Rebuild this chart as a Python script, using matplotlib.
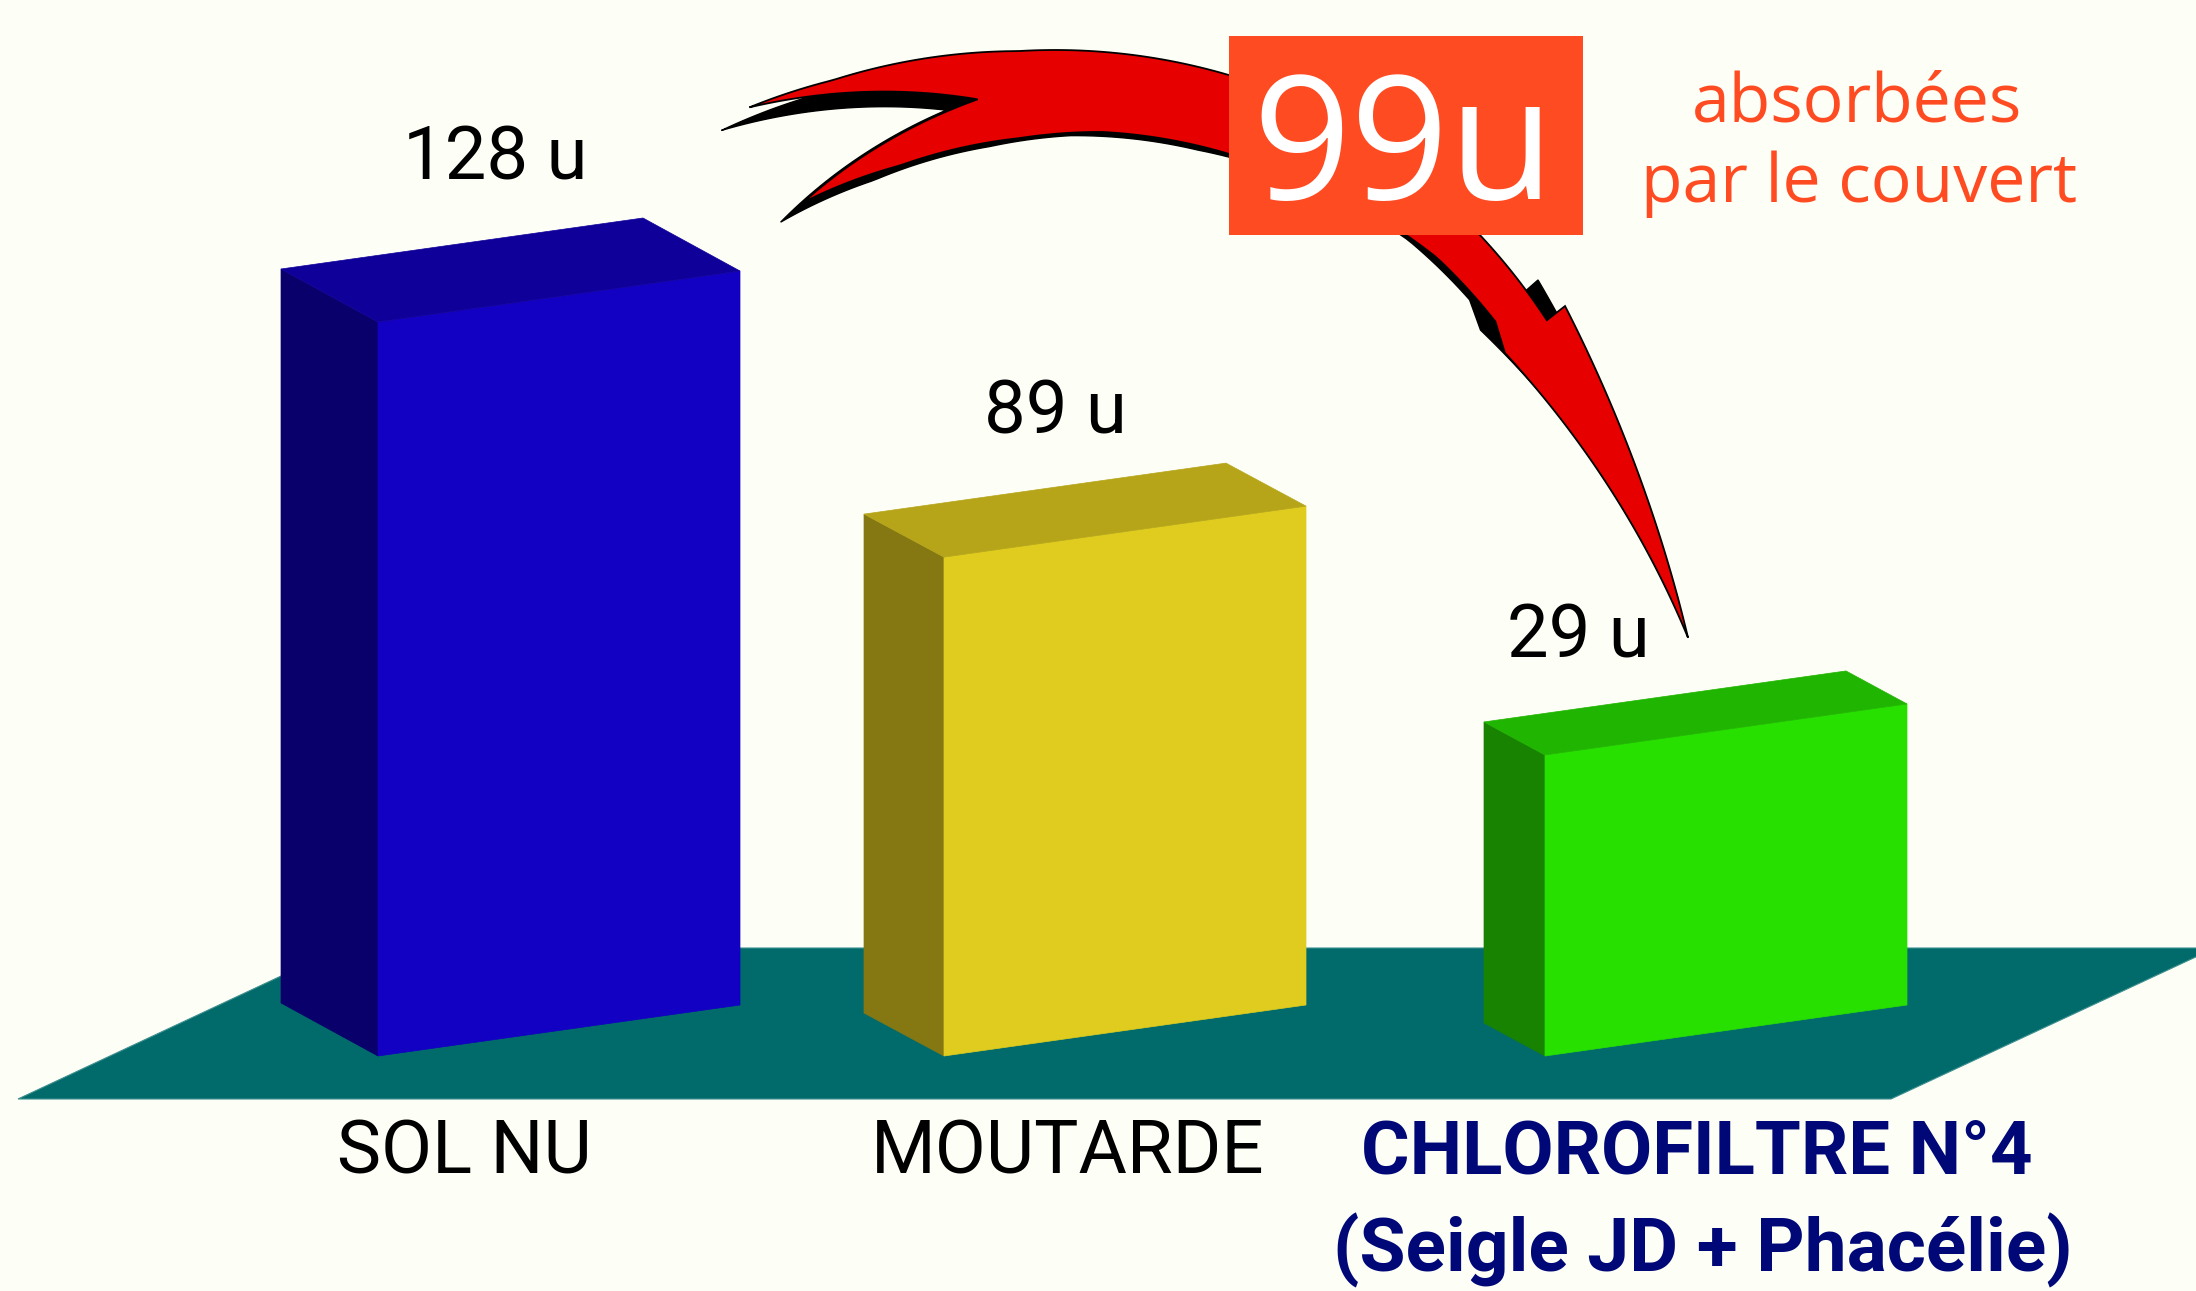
import numpy as np
import matplotlib
matplotlib.use("Agg")
import matplotlib.pyplot as plt
from matplotlib.patches import Polygon, Rectangle

# ---------------- data ----------------
categories = ["SOL NU", "MOUTARDE", "CHLOROFILTRE N°4"]
category_sub = ["", "", "(Seigle JD + Phacélie)"]
values_u = [128, 89, 29]                 # printed values (units)
# the illustration is not drawn to scale: bar heights as drawn, read on the blue bar's scale
drawn_heights = [128, 87, 52.5]
absorbed_u = 99
absorbed_lines = ["absorbées", "par le couvert"]

# ---------------- style / layout ----------------
W, H = 2196, 1291
BG = "#FDFEF6"
FLOOR = "#016B6B"
front_cols = ["#1200C3", "#DFCC1E", "#27E000"]
side_cols = ["#0A006B", "#857813", "#188300"]
top_cols = ["#10009A", "#B6A519", "#20B500"]
RED = "#E60000"
ORANGE = "#FF4B22"
NAVY = "#000878"

BASE_PY = 1056            # pixel row of the value 0 (front-left bottom corner)
PXU = 734 / 128           # pixels per unit
bar_x = [378, 944, 1545]  # front-left x of each bar (px)
bar_w = 362
slant_px = 51             # front face rises to the right
depth_px = [(-97, 53), (-80, 43), (-61, 33)]   # perspective depth vectors (dx, dy-up)
label_pos = [(495, 180), (1055, 433), (1578, 657)]
cat_pos = [(464, 1174), (1068, 1174), (1697, 1174)]
sub_pos = (1703, 1271)

fig = plt.figure(figsize=(W / 100, H / 100), dpi=100, facecolor=BG)

def px_axes(z):
    a = fig.add_axes([0, 0, 1, 1], zorder=z)
    a.set_xlim(0, W)
    a.set_ylim(H, 0)
    a.axis("off")
    a.patch.set_alpha(0)
    return a

ax_floor = px_axes(0)
ax_val = fig.add_axes([0, 0, 1, 1], zorder=1)
ax_val.set_xlim(0, W)
ax_val.set_ylim((BASE_PY - H) / PXU, BASE_PY / PXU)
ax_val.axis("off")
ax_val.patch.set_alpha(0)
ax_top = px_axes(2)

# floor
floor = [(18, 1099), (1891, 1099), (2215, 948), (341, 948)]
ax_floor.add_patch(Polygon(floor, closed=True, facecolor=FLOOR, edgecolor="#3E8F8F", lw=0.8))

# bars (value axis)
S = slant_px / PXU
for i, h in enumerate(drawn_heights):
    x0 = bar_x[i]
    dx, dyp = depth_px[i]
    dy = dyp / PXU
    side = [(x0 + dx, dy), (x0, 0), (x0, h), (x0 + dx, h + dy)]
    front = [(x0, 0), (x0 + bar_w, S), (x0 + bar_w, S + h), (x0, h)]
    top = [(x0, h), (x0 + bar_w, h + S), (x0 + bar_w + dx, h + S + dy), (x0 + dx, h + dy)]
    ax_val.add_patch(Polygon(side, closed=True, facecolor=side_cols[i], edgecolor=side_cols[i], lw=0.5))
    ax_val.add_patch(Polygon(front, closed=True, facecolor=front_cols[i], edgecolor=front_cols[i], lw=0.5))
    ax_val.add_patch(Polygon(top, closed=True, facecolor=top_cols[i], edgecolor=top_cols[i], lw=0.5))

# value labels
for (lx, ly), v in zip(label_pos, values_u):
    ax_top.text(lx, ly, f"{v} u", ha="center", va="baseline", fontsize=53.5,
                family="Roboto", color="black")

# category labels
ax_top.text(*cat_pos[0], categories[0], ha="center", va="baseline", fontsize=53.5,
            family="Roboto", color="black")
ax_top.text(*cat_pos[1], categories[1], ha="center", va="baseline", fontsize=53.5,
            family="Roboto", color="black")
ax_top.text(*cat_pos[2], categories[2], ha="center", va="baseline", fontsize=53.5,
            family="Roboto", weight="bold", color=NAVY)
ax_top.text(*sub_pos, category_sub[2], ha="center", va="baseline", fontsize=54,
            family="Roboto", weight="bold", color=NAVY)

# ---------------- curved arrow ----------------
C = np.array([1029.0, 663.0])

def pts(theta, r):
    t = np.radians(theta)
    return np.column_stack([C[0] + r * np.cos(t), C[1] - r * np.sin(t)])

out_t = [33.5, 43.5, 71.2, 91, 108.6, 116.7]
out_r = [621, 621.7, 621, 612, 615, 622]
in_t = [36.2, 44.8, 68.5, 82.2, 91, 104.5, 116.1]
in_r = [578, 575, 547, 536, 525, 514, 513]

def arrow_outline(rot=0.0, dr=0.0):
    segs = []
    th = np.linspace(116.7, 33.5, 120)
    segs.append(pts(th + rot, np.interp(th, out_t, out_r) + dr))
    segs.append(pts(np.array([33.66]) + rot, np.array([644.0]) + dr))
    f = np.linspace(0, 1, 60)
    th = 33.66 + (2.2 - 33.66) * f
    r = 644 + (659.5 - 644) * f - 56 * f * (1 - f)
    segs.append(pts(th + rot, r + dr))
    f = np.linspace(0, 1, 60)
    th = 2.2 + (33.1 - 2.2) * f
    r = 659.5 + (568 - 659.5) * f - 40 * f * (1 - f)
    segs.append(pts(th + rot, r + dr))
    th = np.linspace(36.2, 116.1, 100)
    segs.append(pts(th + rot, np.interp(th, in_t, in_r) + dr))
    f = np.linspace(0, 1, 30)
    segs.append(pts(116.1 + (95.2 - 116.1) * f + rot, 513 + (566 - 513) * f + dr))
    segs.append(pts(95.2 + (116.7 - 95.2) * f + rot, 566 + (622 - 566) * f + dr))
    return np.vstack(segs)

ax_top.add_patch(Polygon(arrow_outline(rot=3.3, dr=-7), closed=True, facecolor="black",
                         edgecolor="black", lw=1))
ax_top.add_patch(Polygon(arrow_outline(), closed=True, facecolor=RED, edgecolor="black", lw=1.3))

# box with absorbed amount
ax_top.add_patch(Rectangle((1229, 36), 354, 199, facecolor=ORANGE, edgecolor="none"))
ax_top.text(1404, 199, f"{absorbed_u}u", ha="center", va="baseline", fontsize=124,
            family="Open Sans", color="white")
ax_top.text(1857, 122, absorbed_lines[0], ha="center", va="baseline", fontsize=49,
            family="Open Sans", color=ORANGE)
ax_top.text(1859, 202, absorbed_lines[1], ha="center", va="baseline", fontsize=49,
            family="Open Sans", color=ORANGE)

fig.savefig("out.png", dpi=100, facecolor=BG)
